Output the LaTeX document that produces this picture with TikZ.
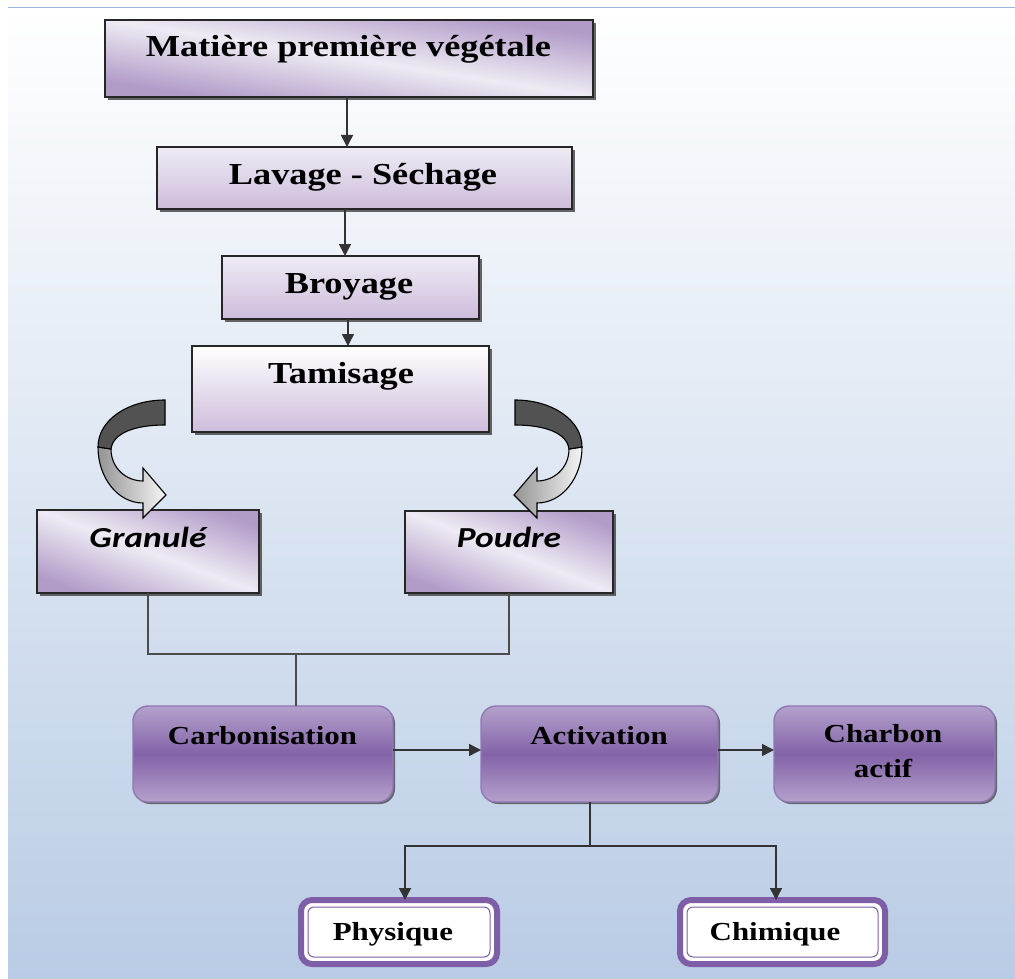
\documentclass[tikz,border=0pt]{standalone}
\usepackage{fontspec}
\usetikzlibrary{arrows.meta,shadows,calc}
\newfontfamily\serifbox{Liberation Serif}[FakeStretch=1.19]
\newfontfamily\sansbox{Carlito}[FakeStretch=1.22]
\definecolor{bgbot}{HTML}{B9CCE5}
\definecolor{topln}{HTML}{9DB8DE}
\definecolor{lavd}{HTML}{B19CC8}
\definecolor{lavl}{HTML}{EFEBF4}
\definecolor{lavm}{HTML}{CDBDDB}
\definecolor{purtop}{HTML}{B4A1CC}
\definecolor{purmid}{HTML}{8363A7}
\definecolor{purbrd}{HTML}{9079B3}
\definecolor{pur}{HTML}{7E5EA6}
\definecolor{conn}{HTML}{333333}
\newcommand\diagstrips[3]{%
  \begin{scope}
    \clip (#1.north west) rectangle (#1.south east);
    \begin{scope}[shift={(#1.north west)}, x=#2pt, y=-#3pt]
      \foreach \s in {-1.3,-1.27,...,1.3}{
        \pgfmathsetmacro\pc{100*min(1,1.25*abs(\s+0.015))}
        \fill[lavd!\pc!lavl] (\s-0.2,-0.2) -- (\s-0.158,-0.2) -- (\s+1.242,1.2) -- (\s+1.2,1.2) -- cycle;
      }
    \end{scope}
  \end{scope}
  \draw[black!85, line width=1.6pt] (#1.north west) rectangle (#1.south east);}
\begin{document}
\begin{tikzpicture}[x=1pt,y=-1pt,
  sqbox/.style={draw=black!85, line width=1.6pt, inner sep=0pt, outer sep=0pt,
    drop shadow={shadow xshift=3pt, shadow yshift=-3pt, fill=black!75, opacity=0.8}},
  vertfill/.style={top color=lavl, bottom color=lavm},
  tamfill/.style={top color=white, bottom color=lavm},
  rbox/.style={draw=purbrd, line width=1.4pt, rounded corners=15pt, inner sep=0pt, outer sep=0pt,
    top color=purtop, bottom color=purtop, middle color=purmid,
    drop shadow={shadow xshift=2pt, shadow yshift=-2pt, fill=black!70, opacity=0.8}},
  pbox/.style={draw=pur, line width=6pt, rounded corners=11pt, fill=white, inner sep=0pt, outer sep=0pt},
  toptxt/.style={anchor=base, inner sep=0pt, font=\serifbox\bfseries\fontsize{30.5}{36}\selectfont},
  bottxt/.style={anchor=base, inner sep=0pt, font=\serifbox\bfseries\fontsize{26}{31}\selectfont},
  ittxt/.style={anchor=base, inner sep=0pt, font=\sansbox\bfseries\itshape\fontsize{29}{34}\selectfont},
  conn/.style={draw=conn, line width=1.5pt},
  arr/.style={conn, -{Triangle[length=12pt,width=12pt]}},
  cdark/.style={draw=black, line width=1.1pt, fill=black!68},
  clight/.style={draw=black, line width=1.1pt, left color=black!42, right color=black!4}
]
\useasboundingbox (0,0) rectangle (1015,979);
% background
\shade[top color=white, bottom color=bgbot] (8,7.5) rectangle (1015,979);
\draw[topln, line width=1.8pt] (8,7.5) -- (1015,7.5);

% upper boxes
\node[sqbox, fill=lavl, minimum width=488pt, minimum height=77pt] (mat) at (349,58.5) {};
\diagstrips{mat}{488}{77}
\node[sqbox, vertfill, minimum width=415pt, minimum height=62pt] (lav) at (364.5,178) {};
\node[sqbox, vertfill, minimum width=257pt, minimum height=63pt] (bro) at (350.5,287.5) {};
\node[sqbox, tamfill, minimum width=297pt, minimum height=86pt] (tam) at (340.5,389) {};
\node[sqbox, fill=lavl, minimum width=222pt, minimum height=83pt] (gr) at (148,551.5) {};
\diagstrips{gr}{222}{83}
\node[sqbox, fill=lavl, minimum width=208pt, minimum height=82pt] (po) at (509,552) {};
\diagstrips{po}{208}{82}

\node[toptxt] (matT) at (348.5,57) {Matière première végétale};
\node[toptxt] (lavT) at (363,185) {Lavage - Séchage};
\node[toptxt] (broT) at (349,293) {Broyage};
\node[toptxt] (tamT) at (341,383) {Tamisage};
\node[ittxt] (grT) at (148,547) {Granulé};
\node[ittxt] (poT) at (509,547) {Poudre};

% lower boxes
\node[rbox, minimum width=260pt, minimum height=96pt] (carb) at (263,754) {};
\node[rbox, minimum width=237pt, minimum height=96pt] (act) at (599.5,754) {};
\node[rbox, minimum width=221pt, minimum height=96pt] (cha) at (884.5,754) {};
\node[bottxt] (carbT) at (262.5,744) {Carbonisation};
\node[bottxt] (actT) at (599,744) {Activation};
\node[bottxt] (chaT1) at (883,742) {Charbon};
\node[bottxt] (chaT2) at (883,777) {actif};

\node[pbox, minimum width=196pt, minimum height=64pt] (ph) at (399,932) {};
\node[pbox, minimum width=205pt, minimum height=64pt] (ch) at (782.5,932) {};
\draw[pur, line width=1pt, rounded corners=6pt] ($(ph.north west)+(7,7)$) rectangle ($(ph.south east)+(-7,-7)$);
\draw[pur, line width=1pt, rounded corners=6pt] ($(ch.north west)+(7,7)$) rectangle ($(ch.south east)+(-7,-7)$);
\node[bottxt] (phT) at (393,940) {Physique};
\node[bottxt] (chT) at (775,940) {Chimique};

% vertical arrows at top
\coordinate (ax1) at (347,0);
\coordinate (ax2) at (345,0);
\coordinate (ax3) at (348,0);
\draw[arr] (mat.south -| ax1) -- (lav.north -| ax1);
\draw[arr] (lav.south -| ax2) -- (bro.north -| ax2);
\draw[arr] (bro.south -| ax3) -- (tam.north -| ax3);

% curved arrows
\begin{scope}
\path[clight] (98,447) .. controls (98,478) and (118,503) .. (143,503) -- (143,518) -- (166,495) -- (143,468) -- (143,481) .. controls (126,481) and (111,468) .. (111,449) -- cycle;
\path[cdark] (165,400) .. controls (128,400) and (98,420) .. (98,447) -- (111,449) .. controls (113,433) and (135,425) .. (165,425) -- cycle;
\end{scope}
\begin{scope}[shift={(680,0)}, xscale=-1]
\path[clight] (98,447) .. controls (98,478) and (118,503) .. (143,503) -- (143,518) -- (166,495) -- (143,468) -- (143,481) .. controls (126,481) and (111,468) .. (111,449) -- cycle;
\path[cdark] (165,400) .. controls (128,400) and (98,420) .. (98,447) -- (111,449) .. controls (113,433) and (135,425) .. (165,425) -- cycle;
\end{scope}

% join Granule / Poudre to Carbonisation
\draw[conn, draw=black!70, line width=1.3pt] (gr.south) -- ++(0,61) -| (po.south);
\coordinate (jm) at (296,654);
\draw[conn, draw=black!70, line width=1.3pt] (jm) -- (jm |- carb.north);

% horizontal arrows
\draw[arr] ([yshift=4pt]carb.east) -- ([yshift=4pt]act.west);
\draw[arr] ([yshift=4pt]act.east) -- ([yshift=4pt]cha.west);

% split from Activation
\draw[conn] ([xshift=-9.5pt]act.south) -- ++(0,44) coordinate (sp);
\draw[arr] (sp) -| ([xshift=6pt]ph.north);
\draw[arr] (sp) -| ([xshift=-6.5pt]ch.north);
\end{tikzpicture}
\end{document}
